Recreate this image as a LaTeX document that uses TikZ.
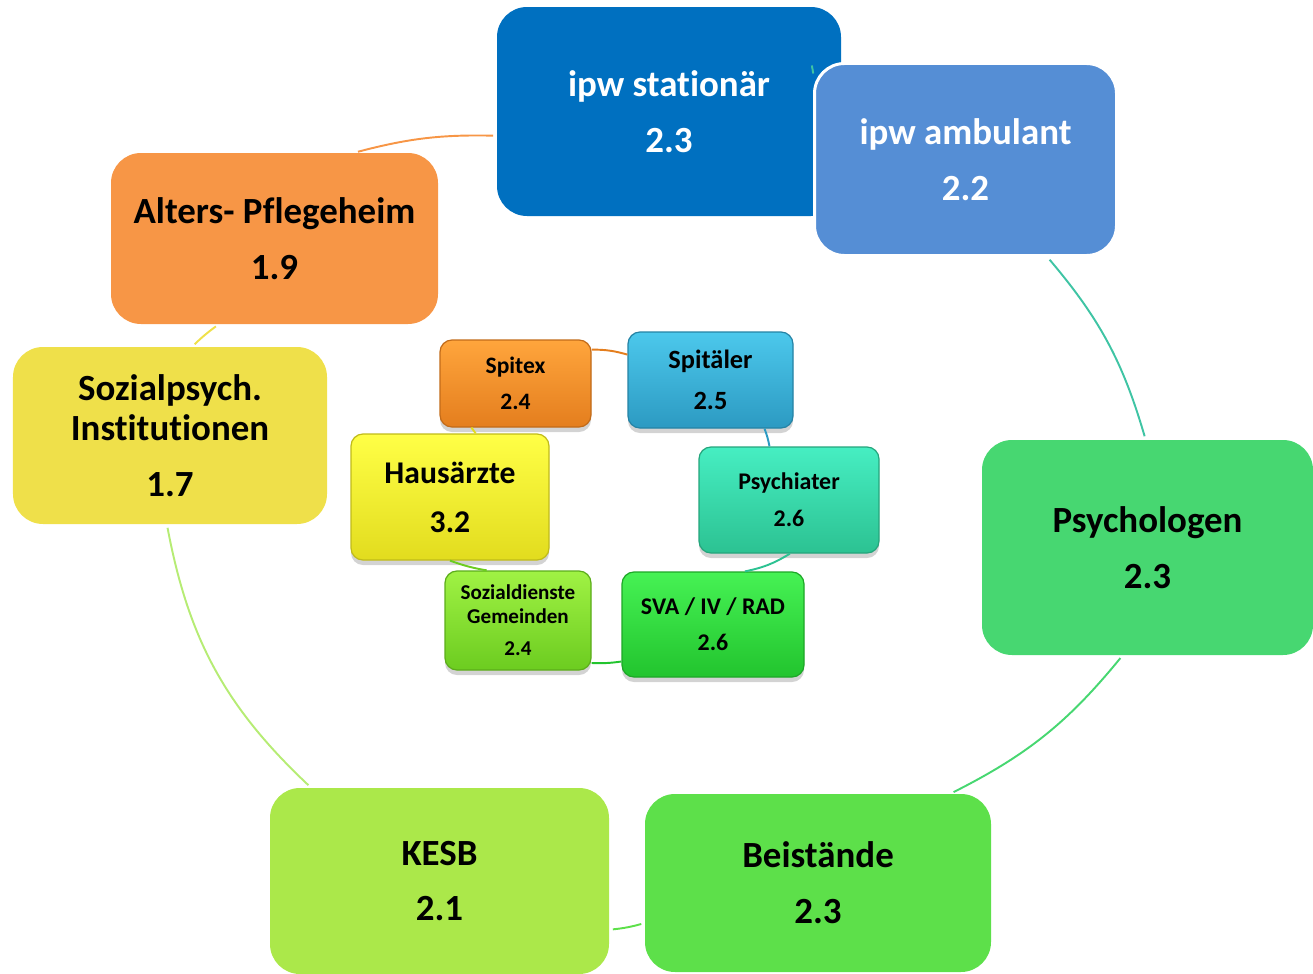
\documentclass[tikz,border=0pt]{standalone}
\usepackage{fontspec}
\setmainfont{Carlito}[Ligatures=NoCommon]
\usetikzlibrary{shadows}

\definecolor{statc}{HTML}{0070C0}
\definecolor{ambuc}{HTML}{558ED5}
\definecolor{psychc}{HTML}{47D771}
\definecolor{beistc}{HTML}{5DE04A}
\definecolor{kesbc}{HTML}{ABE84A}
\definecolor{sozpsyc}{HTML}{EFE04A}
\definecolor{altc}{HTML}{F79646}
\definecolor{ambul}{HTML}{3FC4A4}
\definecolor{kesbl}{HTML}{B6EC74}

\definecolor{spitextop}{HTML}{FFA53C}
\definecolor{spitexbot}{HTML}{E47E1E}
\definecolor{spittop}{HTML}{4CC8EC}
\definecolor{spitbot}{HTML}{2C9AC2}
\definecolor{psychitop}{HTML}{46EEC2}
\definecolor{psychibot}{HTML}{2CC292}
\definecolor{svatop}{HTML}{46F254}
\definecolor{svabot}{HTML}{22C42E}
\definecolor{sozdtop}{HTML}{A0F244}
\definecolor{sozdbot}{HTML}{6CCC20}
\definecolor{haustop}{HTML}{FFFF46}
\definecolor{hausbot}{HTML}{E2DC1E}

\begin{document}
\begin{tikzpicture}[
    outer/.style={rounded corners=0.6cm, inner sep=0pt, align=center,
      font=\bfseries\fontsize{21}{23.2}\selectfont},
    inner/.style={rounded corners=0.24cm, inner sep=0pt, align=center, line width=0.7pt,
      drop shadow={shadow xshift=0pt, shadow yshift=-0.1cm, opacity=0.35}},
    link/.style={line width=1.1pt, shorten <=2pt, shorten >=2pt}]
  \useasboundingbox (0,0) rectangle (26.26,-19.48);

  % outer cycle
  \node[outer, fill=statc, text=white, minimum width=6.88cm, minimum height=4.18cm]
    (stat) at (13.38,-2.23) {ipw stationär\\[8.5pt]2.3};
  \node[outer, fill=ambuc, draw=white, line width=1.7pt, text=white,
    minimum width=6.04cm, minimum height=3.84cm]
    (ambu) at (19.31,-3.19) {ipw ambulant\\[8.5pt]2.2};
  \node[outer, fill=psychc, minimum width=6.62cm, minimum height=4.3cm]
    (psych) at (22.95,-10.95) {Psychologen\\[8.5pt]2.3};
  \node[outer, fill=beistc, minimum width=6.92cm, minimum height=3.56cm]
    (beist) at (16.36,-17.66) {Beistände\\[8.5pt]2.3};
  \node[outer, fill=kesbc, minimum width=6.78cm, minimum height=3.72cm]
    (kesb) at (8.79,-17.62) {KESB\\[8.5pt]2.1};
  \node[outer, fill=sozpsyc, minimum width=6.28cm, minimum height=3.54cm]
    (sozpsy) at (3.4,-8.71) {Sozialpsych.\\Institutionen\\[8.5pt]1.7};
  \node[outer, fill=altc, minimum width=6.54cm, minimum height=3.42cm]
    (alt) at (5.49,-4.77) {Alters- Pflegeheim\\[8.5pt]1.9};

  \foreach \src/\a/\dst/\b/\bend/\col in {alt/47/stat/188/8/altc,
      sozpsy/76/alt/-123/4/sozpsyc, kesb/144/sozpsy/-92/18/kesbl,
      beist/193/kesb/-16/5/beistc, psych/-103/beist/34/12/psychc,
      ambu/-50/psych/91/12/ambul}
    \draw[link, \col] (\src.\a) to[bend left=\bend] (\dst.\b);
  \draw[link, ambul] ([xshift=-1pt]ambu.north west) -- ([xshift=0.5pt, yshift=-0.3cm]ambu.north west);

  % inner cycle
  \node[inner, top color=spitextop, bottom color=spitexbot, draw=spitexbot!85!black,
    minimum width=3.02cm, minimum height=1.74cm,
    font=\bfseries\fontsize{13.4}{20.4}\selectfont]
    (spitex) at (10.31,-7.67) {Spitex\\2.4};
  \node[inner, top color=spittop, bottom color=spitbot, draw=spitbot!85!black,
    minimum width=3.3cm, minimum height=1.92cm,
    font=\bfseries\fontsize{15}{23.2}\selectfont]
    (spit) at (14.21,-7.6) {Spitäler\\2.5};
  \node[inner, top color=psychitop, bottom color=psychibot, draw=psychibot!85!black,
    minimum width=3.6cm, minimum height=2.12cm,
    font=\bfseries\fontsize{13.6}{21}\selectfont]
    (psychi) at (15.78,-10.0) {Psychiater\\2.6};
  \node[inner, top color=svatop, bottom color=svabot, draw=svabot!85!black,
    minimum width=3.64cm, minimum height=2.1cm,
    font=\bfseries\fontsize{13.6}{20.4}\selectfont]
    (sva) at (14.26,-12.49) {SVA / IV / RAD\\2.6};
  \node[inner, top color=sozdtop, bottom color=sozdbot, draw=sozdbot!85!black,
    minimum width=2.92cm, minimum height=1.98cm,
    font=\bfseries\fontsize{12}{13.6}\selectfont]
    (sozd) at (10.36,-12.41) {Sozialdienste\\Gemeinden\\[4.5pt]2.4};
  \node[inner, top color=haustop, bottom color=hausbot, draw=hausbot!85!black,
    minimum width=3.96cm, minimum height=2.52cm,
    font=\bfseries\fontsize{18}{27.8}\selectfont]
    (haus) at (9.0,-9.94) {Hausärzte\\3.2};

  \foreach \src/\a/\dst/\b/\bend/\col in {spitex/24/spit/163/8/spitexbot,
      spit/-42/psychi/110/5/spitbot, psychi/-89/sva/59/10/psychibot,
      sva/-158/sozd/-30/5/svabot, sozd/122/haus/-90/5/sozdbot,
      haus/68/spitex/-135/0/hausbot}
    \draw[link, shorten <=0pt, shorten >=0pt, \col] (\src.\a) to[bend left=\bend] (\dst.\b);
\end{tikzpicture}
\end{document}
